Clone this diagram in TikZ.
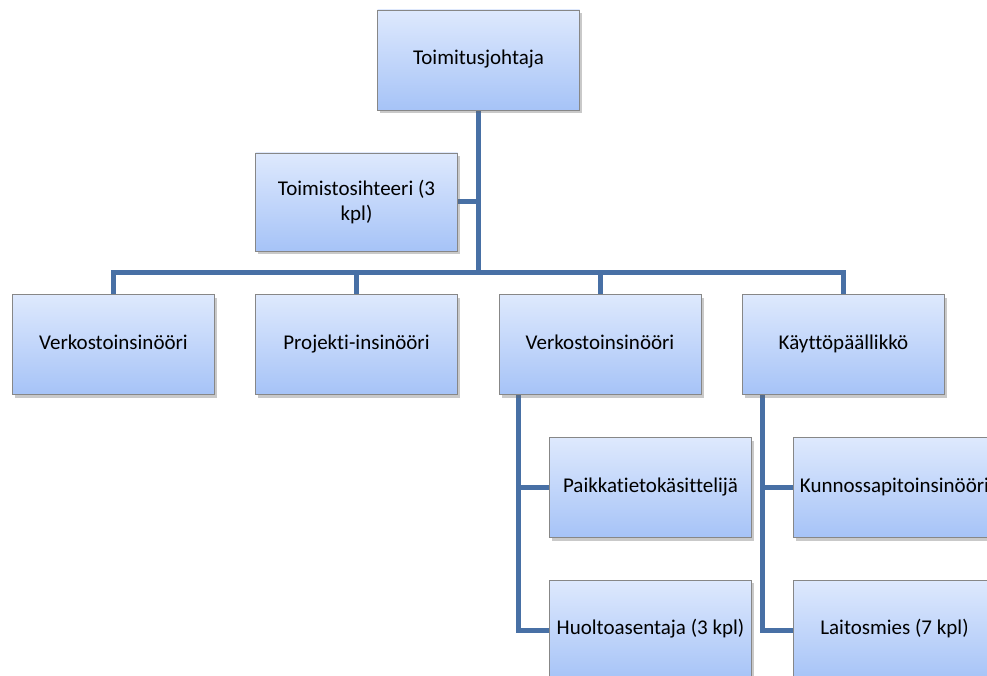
\documentclass[tikz,border=0pt]{standalone}
\usepackage{fontspec}
\setmainfont{Carlito}[Ligatures={NoCommon,NoRequired,NoContextual}]
\usetikzlibrary{shadows,backgrounds,calc}
\definecolor{boxtop}{RGB}{222,233,253}
\definecolor{boxbot}{RGB}{166,195,247}
\definecolor{boxline}{RGB}{135,135,135}
\definecolor{connc}{RGB}{72,112,165}
\tikzset{
  orgbase/.style={draw=boxline, line width=0.8pt, top color=boxtop, bottom color=boxbot,
    minimum width=202pt, minimum height=100pt, inner sep=2pt, align=center,
    font=\fontsize{21}{25.5}\selectfont,
    drop shadow={shadow xshift=2.5pt, shadow yshift=-3pt, opacity=0.35, fill=black!60}},
  orgbox/.style={orgbase, text height=14pt, text depth=5pt},
  conn/.style={draw=connc, line width=5pt, line cap=butt, line join=miter}
}
\begin{document}
\begin{tikzpicture}[x=1pt,y=-1pt]
\useasboundingbox (0,0) rectangle (987,676);
\clip (0,0) rectangle (987,676);
\node[orgbox] (top) at (478.5,60) {Toimitusjohtaja};
\node[orgbase, minimum height=98pt] (sec) at (356.5,202) {Toimistosihteeri (3\\kpl)};
\node[orgbox] (v1) at (113.5,344.5) {Verkostoinsinööri};
\node[orgbox] (pr) at (356.5,344.5) {Projekti-insinööri};
\node[orgbox] (v2) at (600,344.5) {Verkostoinsinööri};
\node[orgbox] (ka) at (843.5,344.5) {Käyttöpäällikkö};
\node[orgbox] (pa) at (650.5,487.5) {Paikkatietokäsittelijä};
\node[orgbox] (hu) at (650.5,630) {Huoltoasentaja (3 kpl)};
\node[orgbox] (ku) at (894.5,487.5) {Kunnossapitoinsinööri};
\node[orgbox] (la) at (894.5,630) {Laitosmies (7 kpl)};
\coordinate (bar) at (0,272);
\begin{scope}[on background layer]
\fill[white] (0,0) rectangle (987,676);
\draw[conn] (top.south) -- (top.south |- bar);
\draw[conn] (sec.east) -- (sec.east -| top.south);
\draw[conn] ([xshift=-2.5pt]v1.north |- bar) -- ([xshift=2.5pt]ka.north |- bar);
\foreach \n in {v1,pr,v2,ka} {\draw[conn] (\n.north |- bar) -- (\n.north);}
\coordinate (l3a) at ($(v2.south west)+(20,0)$);
\coordinate (l3b) at ($(ka.south west)+(20,0)$);
\draw[conn] (l3a) |- (hu.west);
\draw[conn] (l3a |- pa.west) -- (pa.west);
\draw[conn] (l3b) |- (la.west);
\draw[conn] (l3b |- ku.west) -- (ku.west);
\end{scope}
\end{tikzpicture}
\end{document}
